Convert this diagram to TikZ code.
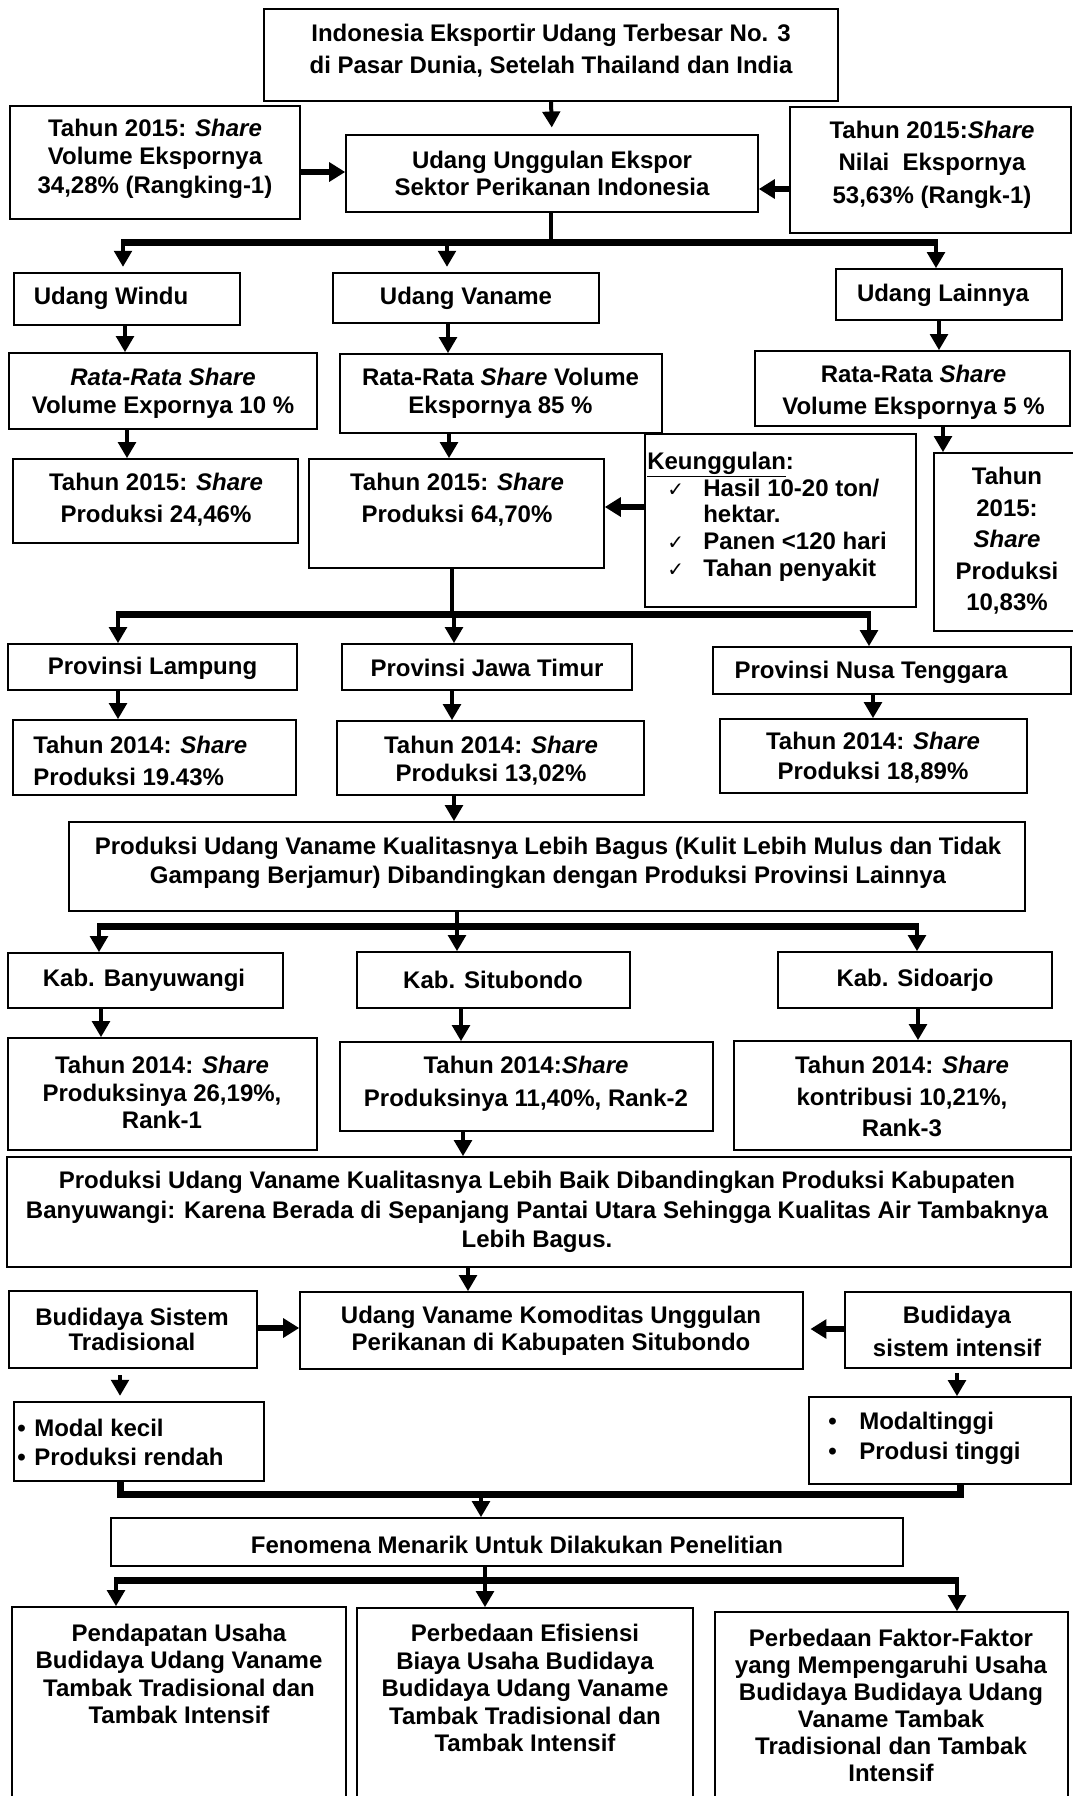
\documentclass[tikz,border=0pt]{standalone}
\usepackage{fontspec}
\setmainfont{Liberation Sans}
\newfontfamily\dejavu{DejaVu Sans}
\usetikzlibrary{arrows.meta,fit}
\newcommand\ck{{\dejavu\mdseries\fontsize{15}{15}\selectfont ✓}}
\newcommand\bul{•}
\begin{document}
\begin{tikzpicture}[x=0.75pt,y=-0.75pt,
  box/.style={draw, line width=1.2pt, inner sep=0pt},
  txt/.style={align=center, inner sep=0pt, font=\fontsize{18}{#1}\selectfont\bfseries},
  txt/.default=21pt,
  arr/.style={line width=3pt, -{Triangle[length=12pt,width=13pt]}},
  blk/.style={line width=5pt, -{Triangle[length=12pt,width=14pt]}},
  bar/.style={line width=5.25pt},
  stem/.style={line width=3pt}
]
\useasboundingbox (0,0) rectangle (1073,1796);

% ---------- boxes ----------
\node[box, fit={(264,9)(838,101)}] (top) {};
\node[box, fit={(10,106)(300,219)}] (volL) {};
\node[box, fit={(346,135)(758,212)}] (unggul) {};
\node[box, fit={(790,107)(1071,233)}] (nilaiR) {};
\node[box, fit={(14,273)(240,325)}] (windu) {};
\node[box, fit={(333,273)(599,323)}] (vaname) {};
\node[box, fit={(836,269)(1062,320)}] (lainnya) {};
\node[box, fit={(9,353)(317,429)}] (rataW) {};
\node[box, fit={(340,354)(662,433)}] (rataV) {};
\node[box, fit={(755,351)(1070,426)}] (rataL) {};
\node[box, fit={(13,459)(298,543)}] (prodW) {};
\node[box, fit={(309,459)(604,568)}] (prodV) {};
\node[box, fit={(645,434)(916,607)}] (keung) {};
\node[box, fit={(934,453)(1080,631)}] (prodL) {};
\node[box, fit={(8,644)(297,690)}] (provL) {};
\node[box, fit={(342,644)(632,690)}] (provJ) {};
\node[box, fit={(713,647)(1071,694)}] (provN) {};
\node[box, fit={(13,720)(296,795)}] (shL) {};
\node[box, fit={(337,721)(644,795)}] (shJ) {};
\node[box, fit={(720,719)(1027,793)}] (shN) {};
\node[box, fit={(69,822)(1025,911)}] (kual1) {};
\node[box, fit={(8,953)(283,1008)}] (kabB) {};
\node[box, fit={(357,952)(630,1008)}] (kabS) {};
\node[box, fit={(778,952)(1052,1008)}] (kabD) {};
\node[box, fit={(8,1038)(317,1150)}] (shB) {};
\node[box, fit={(340,1042)(713,1131)}] (shS) {};
\node[box, fit={(734,1041)(1071,1150)}] (shD) {};
\node[box, fit={(7,1157)(1071,1267)}] (kual2) {};
\node[box, fit={(9,1291)(257,1368)}] (trad) {};
\node[box, fit={(300,1292)(803,1369)}] (komod) {};
\node[box, fit={(845,1292)(1071,1368)}] (intens) {};
\node[box, fit={(14,1402)(264,1481)}] (modalK) {};
\node[box, fit={(809,1397)(1071,1484)}] (modalT) {};
\node[box, fit={(111,1518)(903,1566)}] (fenom) {};
\node[box, fit={(12,1607)(346,1810)}] (out1) {};
\node[box, fit={(357,1608)(693,1810)}] (out2) {};
\node[box, fit={(715,1612)(1068,1810)}] (out3) {};

% ---------- texts ----------
\node[txt=24pt] (ttop) at (551,51) {Indonesia Eksportir Udang Terbesar No. 3\\di Pasar Dunia, Setelah Thailand dan India};
\node[txt=21.4pt] (tvolL) at (155,158.5) {Tahun 2015: \textit{Share}\\Volume Ekspornya\\34,28\% (Rangking-1)};
\node[txt=20.25pt] (tunggul) at (552,173.5) {Udang Unggulan Ekspor\\Sektor Perikanan Indonesia};
\node[txt=24.4pt] (tnilaiR) at (932,164.5) {Tahun 2015:\textit{Share}\\Nilai\ \ Ekspornya\\53,63\% (Rangk-1)};
\node[txt] (twindu) at (111,298) {Udang Windu};
\node[txt] (tvaname) at (466,298) {Udang Vaname};
\node[txt] (tlainnya) at (943,295) {Udang Lainnya};
\node[txt] (trataW) at (163,393) {\textit{Rata-Rata Share}\\Volume Expornya 10 \%};
\node[txt] (trataV) at (500.5,393) {Rata-Rata \textit{Share} Volume\\Ekspornya 85 \%};
\node[txt=24pt] (trataL) at (913.5,392) {Rata-Rata \textit{Share}\\Volume Ekspornya 5 \%};
\node[txt=24pt] (tprodW) at (156,500) {Tahun 2015: \textit{Share}\\Produksi 24,46\%};
\node[txt=24pt] (tprodV) at (457,500) {Tahun 2015: \textit{Share}\\Produksi 64,70\%};
\node[txt=20pt, align=left, anchor=west] (tkeung) at (647,516.5) {\underline{Keunggulan}:\\
\hspace*{15pt}\makebox[27pt][l]{\ck}Hasil 10-20 ton/\\
\hspace*{42pt}hektar.\\
\hspace*{15pt}\makebox[27pt][l]{\ck}Panen <120 hari\\
\hspace*{15pt}\makebox[27pt][l]{\ck}Tahan penyakit};
\node[txt=23.6pt] (tprodL) at (1007,541) {Tahun\\2015:\\\textit{Share}\\Produksi\\10,83\%};
\node[txt] (tprovL) at (152.5,668) {Provinsi Lampung};
\node[txt] (tprovJ) at (487,668) {Provinsi Jawa Timur};
\node[txt] (tprovN) at (871,672) {Provinsi Nusa Tenggara};
\node[txt=24pt, align=left, anchor=west] (tshL) at (33,761) {Tahun 2014: \textit{Share}\\Produksi 19.43\%};
\node[txt] (tshJ) at (491,761) {Tahun 2014: \textit{Share}\\Produksi 13,02\%};
\node[txt=22.5pt] (tshN) at (873,758) {Tahun 2014: \textit{Share}\\Produksi 18,89\%};
\node[txt=21.75pt] (tkual1) at (548,862.5) {Produksi Udang Vaname Kualitasnya Lebih Bagus (Kulit Lebih Mulus dan Tidak\\Gampang Berjamur) Dibandingkan dengan Produksi Provinsi Lainnya};
\node[txt] (tkabB) at (144,980) {Kab. Banyuwangi};
\node[txt] (tkabS) at (493,980) {Kab. Situbondo};
\node[txt] (tkabD) at (915,980) {Kab. Sidoarjo};
\node[txt=20.6pt] (tshB) at (162,1092.5) {Tahun 2014: \textit{Share}\\Produksinya 26,19\%,\\Rank-1};
\node[txt=24.75pt] (tshS) at (526,1083.5) {Tahun 2014:\textit{Share}\\Produksinya 11,40\%, Rank-2};
\node[txt=23.6pt] (tshD) at (902,1096.5) {Tahun 2014: \textit{Share}\\kontribusi 10,21\%,\\Rank-3};
\node[txt=22pt] (tkual2) at (537,1212) {Produksi Udang Vaname Kualitasnya Lebih Baik Dibandingkan Produksi Kabupaten\\Banyuwangi: Karena Berada di Sepanjang Pantai Utara Sehingga Kualitas Air Tambaknya\\Lebih Bagus.};
\node[txt=19pt] (ttrad) at (132,1329.5) {Budidaya Sistem\\Tradisional};
\node[txt=20pt] (tkomod) at (551,1330.5) {Udang Vaname Komoditas Unggulan\\Perikanan di Kabupaten Situbondo};
\node[txt=24.75pt] (tintens) at (957,1331.5) {Budidaya\\sistem intensif};
\node[txt=21.75pt, align=left, anchor=west] (tmodalK) at (17,1442.5) {\makebox[12.75pt][l]{\bul}Modal kecil\\\makebox[12.75pt][l]{\bul}Produksi rendah};
\node[txt=22.5pt, align=left, anchor=west] (tmodalT) at (828,1438) {\makebox[23.25pt][l]{\bul}Modaltinggi\\\makebox[23.25pt][l]{\bul}Produsi tinggi};
\node[txt] (tfenom) at (517,1545) {Fenomena Menarik Untuk Dilakukan Penelitian};
\node[txt=20.5pt] (tout1) at (179,1674) {Pendapatan Usaha\\Budidaya Udang Vaname\\Tambak Tradisional dan\\Tambak Intensif};
\node[txt=20.6pt] (tout2) at (525,1688) {Perbedaan Efisiensi\\Biaya Usaha Budidaya\\Budidaya Udang Vaname\\Tambak Tradisional dan\\Tambak Intensif};
\node[txt=20.3pt] (tout3) at (891,1705.5) {Perbedaan Faktor-Faktor\\yang Mempengaruhi Usaha\\Budidaya Budidaya Udang\\Vaname Tambak\\Tradisional dan Tambak\\Intensif};

% ---------- connectors ----------
\draw[arr, shorten >=5pt] (top.south) -- (unggul.north);
\draw[blk] (volL.east |- 0,172) -- (unggul.west |- 0,172);
\draw[blk] (nilaiR.west |- 0,189) -- (unggul.east |- 0,189);

\coordinate (j1) at (551,242);
\coordinate (j1a) at (123,242);
\coordinate (j1b) at (447,242);
\coordinate (j1c) at (936,242);
\draw[stem] (unggul.south -| j1) -- (j1);
\draw[bar] ([xshift=-1.5pt]j1a) -- ([xshift=1.5pt]j1c);
\draw[arr, shorten >=4pt] (j1a) -- (windu.north -| j1a);
\draw[arr, shorten >=4pt] (j1b) -- (vaname.north -| j1b);
\draw[arr] (j1c) -- (lainnya.north -| j1c);

\draw[arr] (windu.south -| 125,0) -- (rataW.north -| 125,0);
\draw[arr] (vaname.south -| 448,0) -- (rataV.north -| 448,0);
\draw[arr] (lainnya.south -| 939,0) -- (rataL.north -| 939,0);
\draw[arr] (rataW.south -| 127,0) -- (prodW.north -| 127,0);
\draw[arr] (rataV.south -| 449,0) -- (prodV.north -| 449,0);
\draw[arr] (rataL.south -| 943,0) -- (prodL.north -| 943,0);
\draw[blk] (keung.west |- 0,507) -- (prodV.east |- 0,507);

\coordinate (j2) at (452,614);
\coordinate (j2a) at (118,614);
\coordinate (j2b) at (454,614);
\coordinate (j2c) at (869,614);
\draw[stem] (prodV.south -| j2) -- (j2);
\draw[bar] ([xshift=-1.5pt]j2a) -- ([xshift=1.5pt]j2c);
\draw[arr] (j2a) -- (provL.north -| j2a);
\draw[arr] (j2b) -- (provJ.north -| j2b);
\draw[arr] (j2c) -- (provN.north -| j2c);

\draw[arr] (provL.south -| 118,0) -- (shL.north -| 118,0);
\draw[arr] (provJ.south -| 452,0) -- (shJ.north -| 452,0);
\draw[arr] (provN.south -| 873,0) -- (shN.north -| 873,0);
\draw[arr] (shJ.south -| 454,0) -- (kual1.north -| 454,0);

\coordinate (j3) at (457,926);
\coordinate (j3a) at (99,926);
\coordinate (j3b) at (457,926);
\coordinate (j3c) at (917,926);
\draw[stem] (kual1.south -| j3) -- (j3);
\draw[bar] ([xshift=-1.5pt]j3a) -- ([xshift=1.5pt]j3c);
\draw[arr] (j3a) -- (kabB.north -| j3a);
\draw[arr] (j3b) -- (kabS.north -| j3b);
\draw[arr] (j3c) -- (kabD.north -| j3c);

\draw[arr] (kabB.south -| 101,0) -- (shB.north -| 101,0);
\draw[arr] (kabS.south -| 461,0) -- (shS.north -| 461,0);
\draw[arr] (kabD.south -| 918,0) -- (shD.north -| 918,0);
\draw[arr] (shS.south -| 463,0) -- (kual2.north -| 463,0);
\draw[arr] (kual2.south -| 468,0) -- (komod.north -| 468,0);
\draw[blk] (trad.east |- 0,1328) -- (komod.west |- 0,1328);
\draw[blk, shorten >=5pt] (intens.west |- 0,1329) -- (komod.east |- 0,1329);
\draw[arr, shorten <=5pt, shorten >=4pt] (trad.south -| 120,0) -- (modalK.north -| 120,0);
\draw[arr, shorten <=3pt] (intens.south -| 957,0) -- (modalT.north -| 957,0);

\coordinate (j4a) at (120,1494);
\coordinate (j4b) at (960,1494);
\coordinate (j4) at (481,1494);
\draw[bar, line join=miter] (modalK.south -| j4a) -- (j4a) -- (j4b) -- (modalT.south -| j4b);
\draw[arr] (j4) -- (fenom.north -| j4);

\coordinate (j5) at (485,1580);
\coordinate (j5a) at (116,1580);
\coordinate (j5c) at (957,1580);
\draw[stem] (fenom.south -| j5) -- (j5);
\draw[bar] ([xshift=-1.5pt]j5a) -- ([xshift=1.5pt]j5c);
\draw[arr] (j5a) -- (out1.north -| j5a);
\draw[arr] (j5) -- (out2.north -| j5);
\draw[arr] (j5c) -- (out3.north -| j5c);
\end{tikzpicture}
\end{document}
